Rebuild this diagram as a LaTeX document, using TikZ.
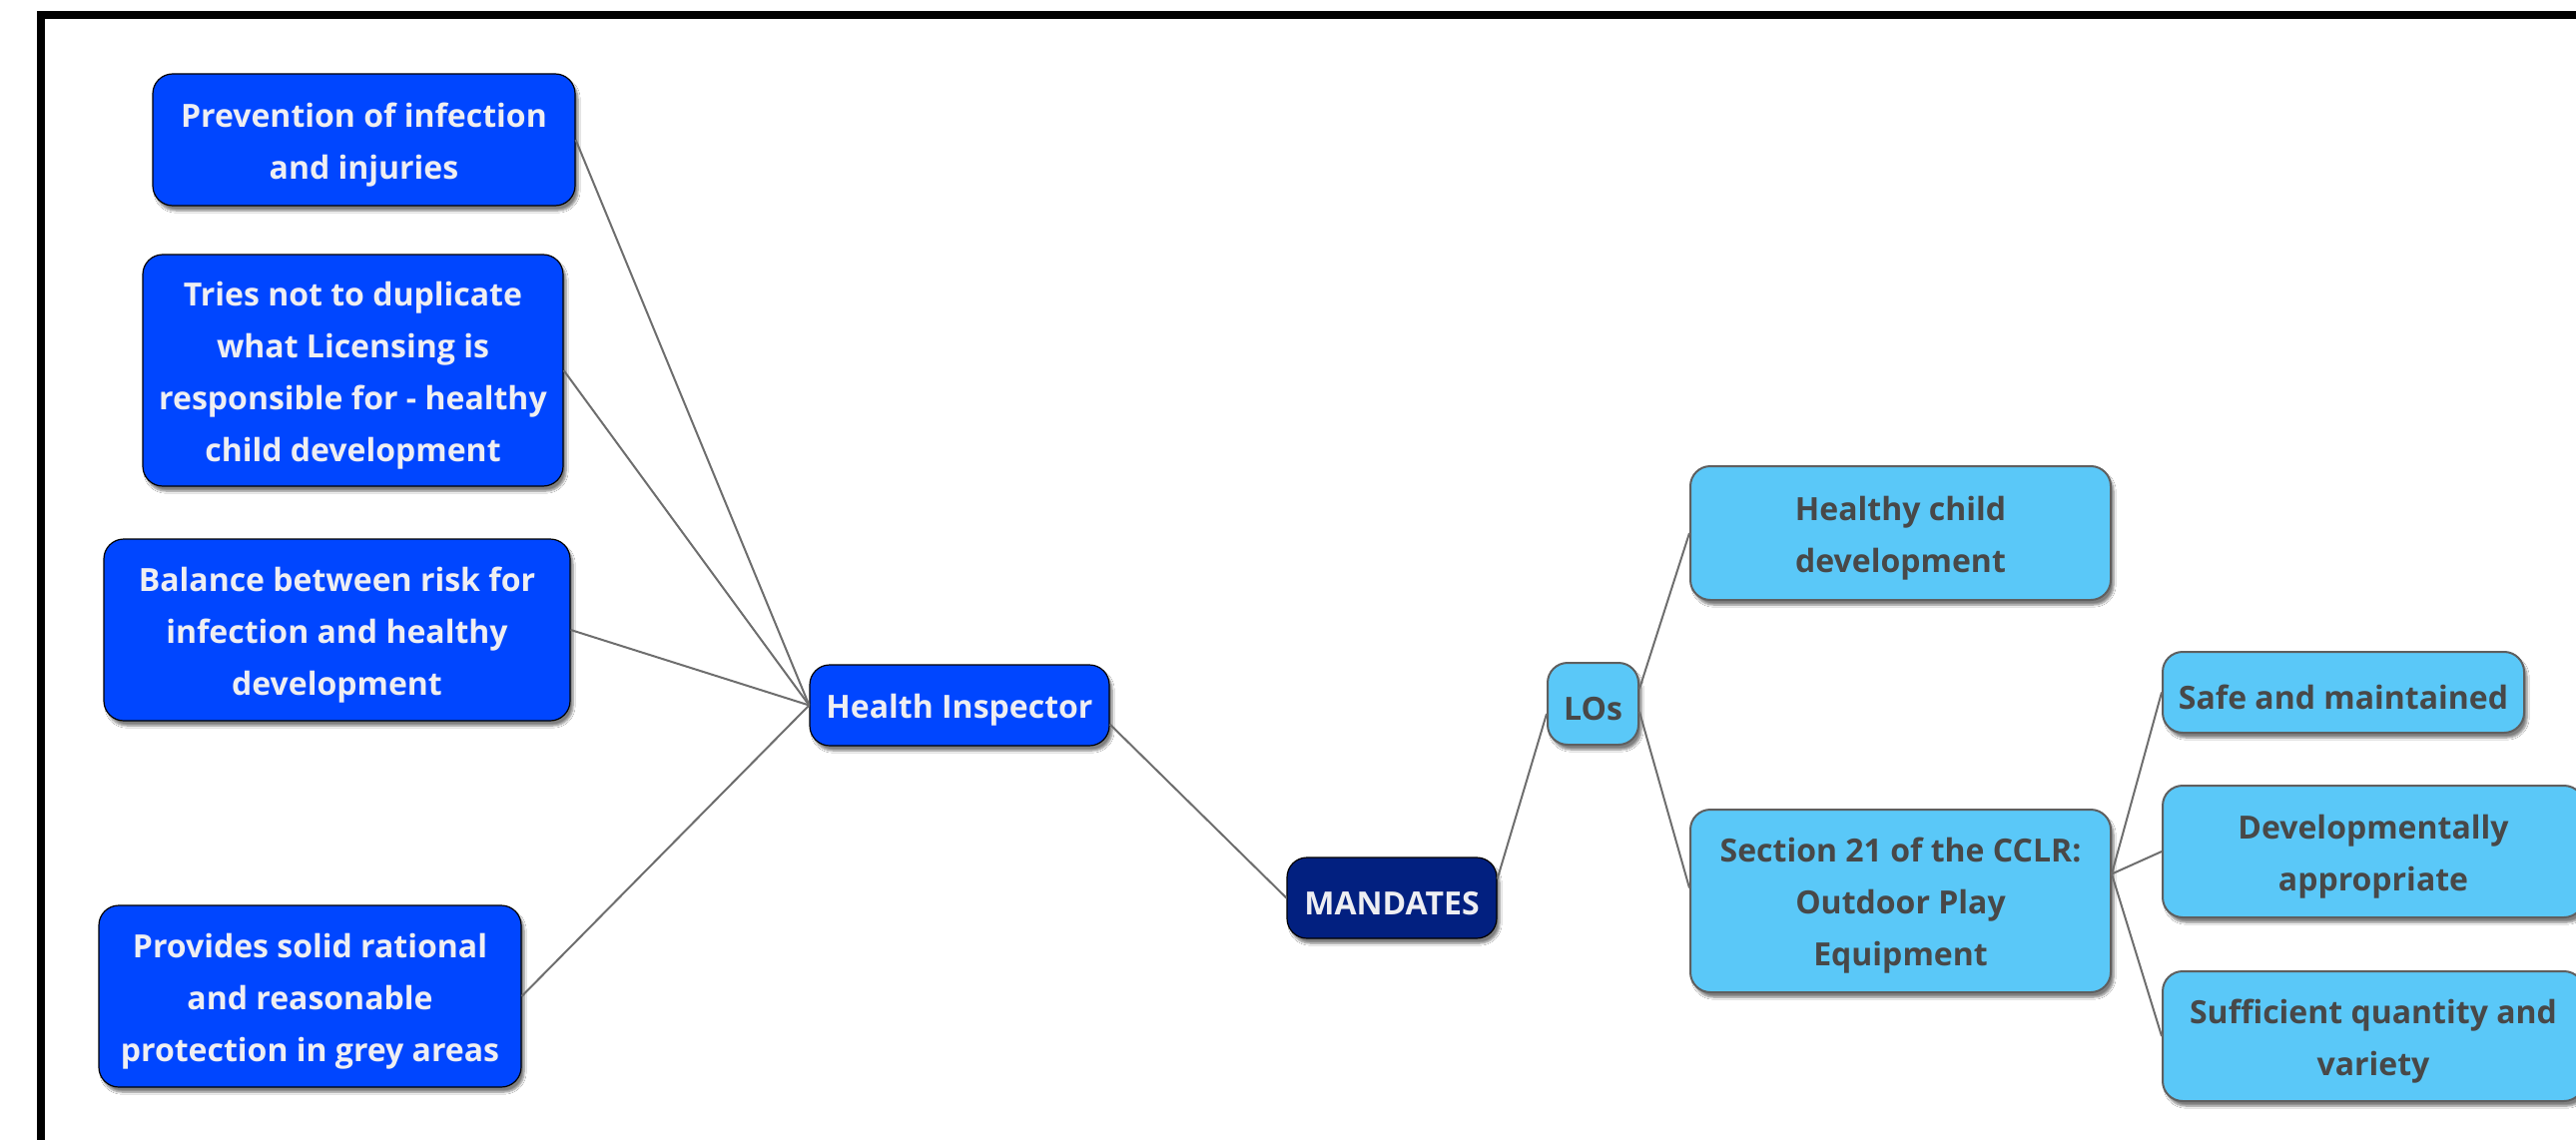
\documentclass[tikz,border=0pt]{standalone}
\usepackage{fontspec}
\setmainfont{Open Sans}
\usetikzlibrary{calc,shadows.blur}
\definecolor{dkblue}{RGB}{0,70,255}
\definecolor{navyc}{RGB}{2,32,128}
\definecolor{ltblue}{RGB}{90,200,248}
\definecolor{lttext}{RGB}{72,72,72}
\definecolor{wtext}{RGB}{238,238,242}
\definecolor{edgec}{RGB}{95,95,95}
\definecolor{linkc}{RGB}{110,110,110}
\newcommand\tstrut{\rule{0pt}{34pt}}
\tikzset{
  boxbase/.style={rounded corners=20pt, inner sep=0pt, align=center,
    font=\fontsize{32pt}{52pt}\selectfont\bfseries,
    blur shadow={shadow xshift=3pt, shadow yshift=-5pt, shadow blur steps=6, shadow opacity=50}},
  dkbox/.style={boxbase, fill=dkblue, draw={RGB:red,40;green,50;blue,110}, line width=1.2pt, text=wtext},
  navybox/.style={boxbase, fill=navyc, draw={RGB:red,20;green,20;blue,60}, line width=1.2pt, text=wtext},
  ltbox/.style={boxbase, fill=ltblue, draw=edgec, line width=2pt, text=lttext},
  link/.style={draw=linkc, line width=2pt}
}
\begin{document}
\begin{tikzpicture}[x=1pt,y=-1pt]
\useasboundingbox (0,0) rectangle (2580,1142);
\fill[white] (0,0) rectangle (2580,1142);
\clip (0,0) rectangle (2580,1142);
\draw[line width=8pt] (40.5,15) rectangle (2650,1220);

% nodes
\node[dkbox, minimum width=423pt, minimum height=132pt] (b1) at (364.5,140) {\tstrut Prevention of infection\\and injuries};
\node[dkbox, minimum width=421pt, minimum height=232pt] (b2) at (353.5,371) {\tstrut Tries not to duplicate\\what Licensing is\\responsible for - healthy\\child development};
\node[dkbox, minimum width=467pt, minimum height=182pt] (b3) at (337.5,631) {\tstrut Balance between risk for\\infection and healthy\\development};
\node[dkbox, minimum width=423pt, minimum height=182pt] (b4) at (310.5,998) {\tstrut Provides solid rational\\and reasonable\\protection in grey areas};
\node[dkbox, minimum width=300pt, minimum height=81pt] (hi) at (961,706.5) {\tstrut Health Inspector};
\node[navybox, minimum width=210pt, minimum height=81pt] (man) at (1394,899.5) {\tstrut MANDATES};
\node[ltbox, minimum width=91pt, minimum height=82pt] (los) at (1595.5,705) {\tstrut LOs};
\node[ltbox, minimum width=421pt, minimum height=134pt] (hcd) at (1903.5,534) {\tstrut Healthy child\\development};
\node[ltbox, minimum width=421pt, minimum height=183pt] (s21) at (1903.5,902.5) {\tstrut Section 21 of the CCLR:\\Outdoor Play\\Equipment};
\node[ltbox, minimum width=362pt, minimum height=81pt] (safe) at (2347,693.5) {\tstrut Safe and maintained};
\node[ltbox, minimum width=422pt, minimum height=132pt] (dev) at (2377,853) {\tstrut Developmentally\\appropriate};
\node[ltbox, minimum width=422pt, minimum height=130pt] (suf) at (2377,1038) {\tstrut Sufficient quantity and\\variety};

% connectors
\draw[link] (b1.east) -- (hi.west);
\draw[link] (b2.east) -- (hi.west);
\draw[link] (b3.east) -- (hi.west);
\draw[link] (b4.east) -- (hi.west);
\draw[link] ($(hi.east)+(0,19)$) -- (man.west);
\draw[link] ($(man.east)+(0,-19)$) -- ($(los.west)+(0,10)$);
\draw[link] ($(los.east)+(0,-15)$) -- (hcd.west);
\draw[link] ($(los.east)+(0,8)$) -- ($(s21.west)+(0,-13)$);
\draw[link] ($(s21.east)+(0,-27)$) -- (safe.west);
\draw[link] ($(s21.east)+(0,-27)$) -- (dev.west);
\draw[link] ($(s21.east)+(0,-27)$) -- (suf.west);
\end{tikzpicture}
\end{document}
